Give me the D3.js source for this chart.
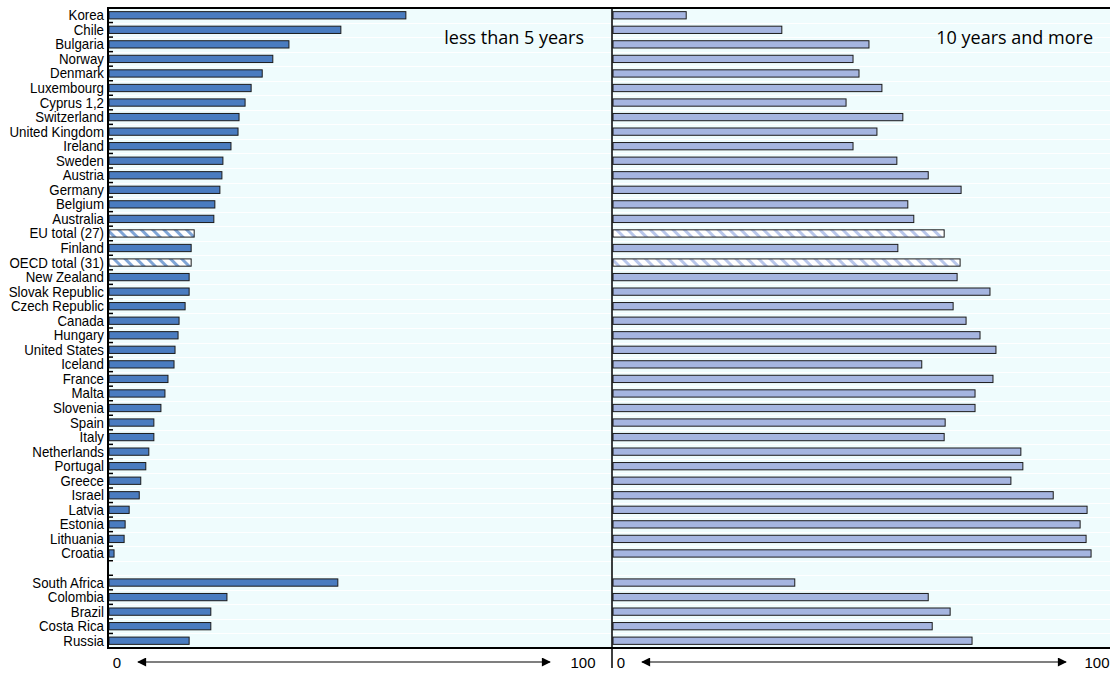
<!DOCTYPE html>
<html><head><meta charset="utf-8">
<script src="https://cdn.jsdelivr.net/npm/d3@7"></script>
<style>
body{margin:0;background:#fff;}
svg{display:block;}
.cat{font-family:"Liberation Sans",Arial,sans-serif;font-size:14px;fill:#000;}
.ann{font-family:"Open Sans","Noto Sans",sans-serif;font-size:18px;fill:#000;}
.tick{font-family:"Liberation Sans",Arial,sans-serif;font-size:15px;fill:#000;}
</style></head>
<body>
<svg id="chart" width="1116" height="673"></svg>
<script>
const categories = ["Korea","Chile","Bulgaria","Norway","Denmark","Luxembourg","Cyprus 1,2","Switzerland","United Kingdom","Ireland","Sweden","Austria","Germany","Belgium","Australia","EU total (27)","Finland","OECD total (31)","New Zealand","Slovak Republic","Czech Republic","Canada","Hungary","United States","Iceland","France","Malta","Slovenia","Spain","Italy","Netherlands","Portugal","Greece","Israel","Latvia","Estonia","Lithuania","Croatia","","South Africa","Colombia","Brazil","Costa Rica","Russia"];
const lessThan5 = [59.1,46.2,35.9,32.7,30.6,28.4,27.2,26.0,25.8,24.4,22.8,22.6,22.2,21.2,21.0,17.1,16.5,16.5,16.1,16.1,15.3,14.1,13.9,13.3,13.1,11.9,11.3,10.5,9.1,9.1,8.1,7.5,6.5,6.2,4.2,3.4,3.2,1.2,null,45.6,23.6,20.4,20.4,16.1];
const tenPlus = [14.9,34.1,51.6,48.4,49.6,54.2,47.0,58.4,53.2,48.4,57.2,63.5,70.1,59.4,60.6,66.7,57.4,69.9,69.3,75.9,68.5,71.1,73.9,77.1,62.2,76.5,72.9,72.9,66.9,66.7,82.1,82.5,80.1,88.6,95.4,94.0,95.2,96.2,null,36.7,63.5,67.9,64.3,72.3];
const aggregates = ["EU total (27)","OECD total (31)"];
const panelTitles = ["less than 5 years","10 years and more"];
const tickLabels = ["0","100"];

const svg = d3.select("#chart");
const plotTop = 8, plotBottom = 648;
const leftX0 = 108, midX = 612, rightX1 = 1110;

const y = d3.scaleBand().domain(categories).range([plotTop, plotBottom]).paddingInner(0.5).paddingOuter(0.25);
const yb = d3.scaleBand().domain(categories).range([plotTop, plotBottom]);
const xL = d3.scaleLinear().domain([0,100]).range([leftX0, midX]);
const xR = d3.scaleLinear().domain([0,100]).range([midX, rightX1]);

const defs = svg.append("defs");
function hatch(id, color){
  const p = defs.append("pattern").attr("id",id).attr("patternUnits","userSpaceOnUse")
    .attr("width",8).attr("height",8).attr("patternTransform","rotate(-45)");
  p.append("rect").attr("width",8).attr("height",8).attr("fill","#fff");
  p.append("rect").attr("width",3).attr("height",8).attr("fill",color);
}
hatch("hL","#7fa5d6");
hatch("hR","#b8c6ea");

svg.append("rect").attr("x",leftX0).attr("y",plotTop).attr("width",rightX1-leftX0).attr("height",plotBottom-plotTop).attr("fill","#effcfd");
svg.append("g").selectAll("line").data(categories.slice(1)).join("line")
  .attr("x1",leftX0).attr("x2",rightX1)
  .attr("y1",d=>Math.round(yb(d))+0.5).attr("y2",d=>Math.round(yb(d))+0.5)
  .attr("stroke","#ffffff").attr("stroke-width",1);

const idx = categories.map((c,i)=>i);

function bars(values, xs, fill, hatchId){
  svg.append("g").selectAll("rect").data(idx.filter(i=>values[i]!=null)).join("rect")
    .attr("x",xs(0)+1)
    .attr("y",i=>y(categories[i]))
    .attr("width",i=>xs(values[i])-xs(0)-1)
    .attr("height",y.bandwidth())
    .attr("fill",i=>aggregates.includes(categories[i]) ? `url(#${hatchId})` : fill)
    .attr("stroke","#1b1b1b").attr("stroke-width",1);
}
bars(lessThan5, xL, "#4a7cc0", "hL");
bars(tenPlus, xR, "#a5b5e0", "hR");

svg.append("line").attr("x1",leftX0).attr("x2",leftX0).attr("y1",plotTop).attr("y2",plotBottom).attr("stroke","#000").attr("stroke-width",2);
svg.append("g").selectAll("line").data(categories.slice(1)).join("line")
  .attr("x1",leftX0).attr("x2",leftX0+5)
  .attr("y1",d=>yb(d)).attr("y2",d=>yb(d))
  .attr("stroke","#000").attr("stroke-width",1.5);
svg.append("line").attr("x1",midX).attr("x2",midX).attr("y1",plotTop).attr("y2",668).attr("stroke","#000").attr("stroke-width",1.5);
svg.append("line").attr("x1",leftX0-1).attr("x2",rightX1).attr("y1",plotTop).attr("y2",plotTop).attr("stroke","#000").attr("stroke-width",2);
svg.append("line").attr("x1",leftX0-1).attr("x2",rightX1).attr("y1",plotBottom).attr("y2",plotBottom).attr("stroke","#000").attr("stroke-width",2);

const sx = 0.95;
svg.append("g").attr("transform",`scale(${sx},1)`).selectAll("text").data(categories.filter(c=>c!=="")).join("text")
  .attr("class","cat").attr("x",(leftX0-4)/sx).attr("y",d=>yb(d)+yb.bandwidth()/2)
  .attr("dy","0.36em").attr("text-anchor","end").text(d=>d);

svg.append("text").attr("class","ann").attr("x",xL(100)-28).attr("y",44).attr("text-anchor","end").text(panelTitles[0]);
svg.append("text").attr("class","ann").attr("x",xR(100)-17).attr("y",44).attr("text-anchor","end").text(panelTitles[1]);

defs.append("marker").attr("id","ah").attr("viewBox","0 0 10 10").attr("refX",9).attr("refY",5)
  .attr("markerWidth",15).attr("markerHeight",9).attr("markerUnits","userSpaceOnUse").attr("orient","auto-start-reverse")
  .append("path").attr("d","M0,0L10,5L0,10z").attr("fill","#000");
[[xL,0],[xR,1]].forEach(([xs,k])=>{
  const ly = 668;
  svg.append("text").attr("class","tick").attr("x",xs(0)+9).attr("y",ly).attr("text-anchor","middle").text(tickLabels[0]);
  svg.append("text").attr("class","tick").attr("x",xs(100)-(k===0?29:13)).attr("y",ly).attr("text-anchor","middle").text(tickLabels[1]);
  svg.append("line").attr("x1",xs(0)+30).attr("x2",xs(100)-(k===0?62:44)).attr("y1",662).attr("y2",662)
    .attr("stroke","#000").attr("stroke-width",1.2)
    .attr("marker-start","url(#ah)").attr("marker-end","url(#ah)");
});
</script>
</body></html>
